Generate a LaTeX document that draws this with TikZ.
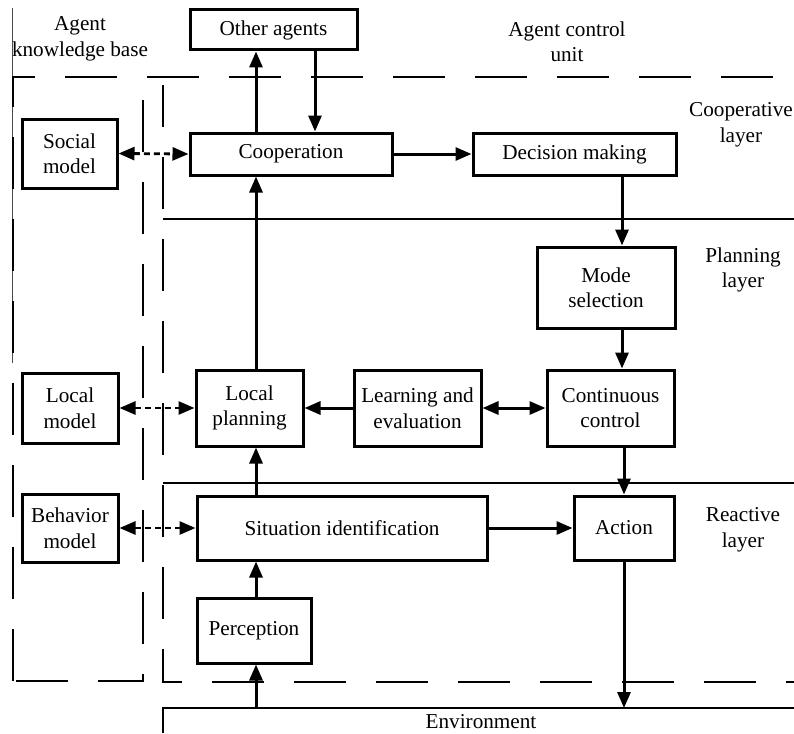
\documentclass[tikz,border=0pt]{standalone}
\usepackage{fontspec}
\setmainfont{Liberation Serif}
\usetikzlibrary{arrows.meta}
\begin{document}
\begin{tikzpicture}[x=1pt,y=-1pt,
  every node/.style={font=\fontsize{21.2}{25.5}\selectfont, align=center},
  box/.style={draw, line width=3pt, inner sep=0pt},
  arr/.style={line width=3pt, -{Triangle[length=16pt,width=13pt]}},
  darr/.style={line width=2.8pt, dash pattern=on 6pt off 4pt, {Triangle[length=16pt,width=13pt]}-{Triangle[length=16pt,width=13pt]}},
  bound/.style={line width=2.8pt, dash pattern=on 52pt off 30pt},
  layer/.style={line width=2.6pt},
  lbl/.style={inner sep=0pt}]
\useasboundingbox (0,0) rectangle (794,733);
% thin left line
\draw[line width=0.9pt, black!70] (12,8) -- (12,363);
% boundaries
\draw[bound] (13,681) -- (13,77) -- (794,77);
\draw[bound] (143,100) -- (143,681) -- (13,681);
\draw[bound, dash phase=10pt] (163,85) -- (163,682) -- (794,682);
% layer lines
\draw[layer] (163,219) -- (794,219);
\draw[layer] (163,483) -- (794,483);
\draw[layer] (163,733) -- (163,708) -- (794,708);
\coordinate (envL) at (163,708);
% labels
\node[lbl] (kb) at (80,39) {Agent\\knowledge base};
\node[lbl] (acu) at (567,42) {Agent control\\unit};
\node[lbl] (coopl) at (741,125) {Cooperative\\layer};
\node[lbl] (planl) at (743,270) {Planning\\layer};
\node[lbl] (reacl) at (743,530) {Reactive\\layer};
\node[lbl] (env) at (481,722) {Environment};
% boxes
\node[box, minimum width=167pt, minimum height=40pt] (oth) at (273.5,30) {Other agents};
\node[box, minimum width=202pt, minimum height=42pt] (coop) at (291,154) {Cooperation};
\node[box, minimum width=203pt, minimum height=42pt] (dec) at (574.5,154) {Decision making};
\node[box, minimum width=95pt, minimum height=69pt] (soc) at (69.5,153.5) {Social\\model};
\node[box, minimum width=138pt, minimum height=81pt] (mode) at (606,287.5) {Mode\\selection};
\node[box, minimum width=127pt, minimum height=76pt] (cont) at (610.5,408) {Continuous\\control};
\node[box, minimum width=127pt, minimum height=76pt] (learn) at (417.5,408) {Learning and\\evaluation};
\node[box, minimum width=107pt, minimum height=76pt] (lplan) at (249.5,408) {Local\\planning};
\node[box, minimum width=96pt, minimum height=70pt] (lmod) at (70,408) {Local\\model};
\node[box, minimum width=96pt, minimum height=68pt] (bmod) at (70,528) {Behavior\\model};
\node[box, minimum width=290pt, minimum height=64pt] (sit) at (342,528) {Situation identification};
\node[box, minimum width=100pt, minimum height=64pt] (act) at (624,528) {Action};
\node[box, minimum width=114pt, minimum height=65pt] (perc) at (254,630.5) {Perception};
% x positions
\coordinate (xa) at (256,0);
\coordinate (xb) at (315,0);
\coordinate (xc) at (622,0);
\coordinate (xd) at (624,0);
% arrows
\draw[arr] (coop.north -| xa) -- (oth.south -| xa);
\draw[arr] (oth.south -| xb) -- (coop.north -| xb);
\draw[arr] (coop.east) -- (dec.west);
\draw[arr] (dec.south -| xc) -- (mode.north -| xc);
\draw[arr] (mode.south -| xc) -- (cont.north -| xc);
\draw[arr] (cont.south -| xd) -- (act.north -| xd);
\draw[arr] (learn.west) -- (lplan.east);
\draw[line width=3pt, {Triangle[length=16pt,width=13pt]}-{Triangle[length=16pt,width=13pt]}] (learn.east) -- (cont.west);
\draw[arr] (lplan.north -| xa) -- (coop.south -| xa);
\draw[arr] (sit.north -| xa) -- (lplan.south -| xa);
\draw[arr] (perc.north -| xa) -- (sit.south -| xa);
\draw[arr] (envL -| xa) -- (perc.south -| xa);
\draw[arr] (sit.east) -- (act.west);
\draw[arr] (act.south -| xd) -- (envL -| xd);
\draw[darr] (soc.east) -- (coop.west);
\draw[darr] (lmod.east) -- (lplan.west);
\draw[darr] (bmod.east) -- (sit.west);
\end{tikzpicture}
\end{document}
